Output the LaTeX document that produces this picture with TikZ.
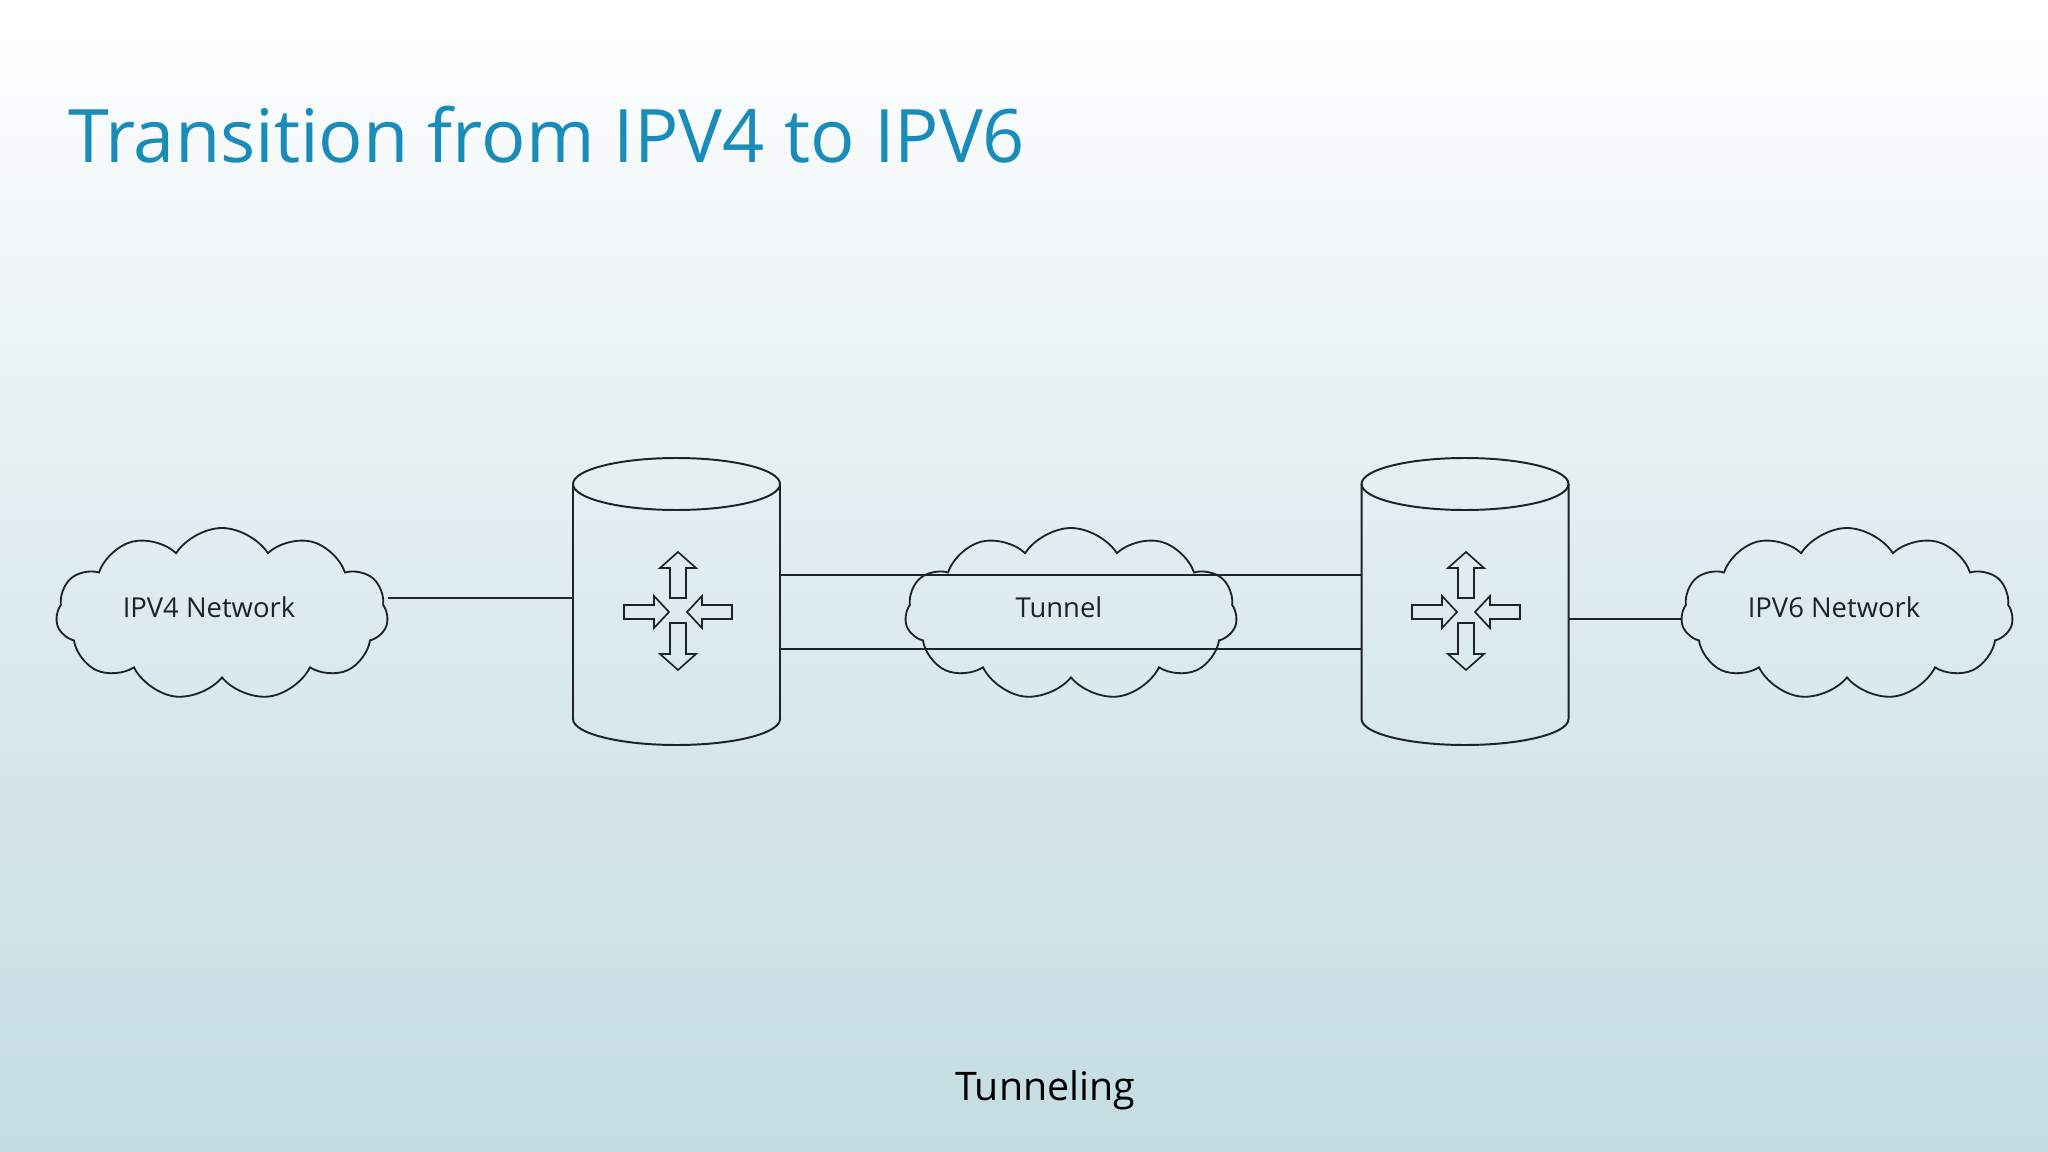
\documentclass[tikz,border=0pt]{standalone}
\usepackage{fontspec}
\setmainfont{Open Sans}
\usetikzlibrary{shapes.symbols}
\definecolor{ttl}{HTML}{1A8CBA}
\definecolor{bgb}{HTML}{C4DCE3}
\definecolor{ln}{HTML}{1E2328}
\tikzset{
 cl/.style={cloud, cloud puffs=11, cloud puff arc=115, aspect=1.9, draw=ln, line width=2.6pt, minimum width=16.6cm, minimum height=8.6cm, font=\fontsize{39}{44}\selectfont, text=ln},
 wire/.style={draw=ln, line width=2.8pt},
 arr/.style={draw=ln, line width=2.4pt, line join=miter},
 body/.style={minimum width=10.35cm, minimum height=13cm, inner sep=0pt}
}
\newcommand{\routericon}[1]{%
 \begin{scope}[shift={(#1)}]
  \draw[arr] (0,-60)--(18,-44)--(8,-44)--(8,-14)--(-8,-14)--(-8,-44)--(-18,-44)--cycle;
  \draw[arr] (0,58)--(18,42)--(8,42)--(8,11)--(-8,11)--(-8,42)--(-18,42)--cycle;
  \draw[arr] (-9,0)--(-24,-16)--(-24,-7)--(-54,-7)--(-54,7)--(-24,7)--(-24,16)--cycle;
  \draw[arr] (9,0)--(24,-16)--(24,-7)--(54,-7)--(54,7)--(24,7)--(24,16)--cycle;
 \end{scope}}
\newcommand{\routercyl}[1]{%
 \begin{scope}[shift={(#1,0)}]
  \draw[wire] (0,484) ellipse [x radius=103.5, y radius=26];
  \draw[wire] (-103.5,484) -- (-103.5,719) arc[start angle=180, end angle=0, x radius=103.5, y radius=26] -- (103.5,484);
 \end{scope}}
\begin{document}
\begin{tikzpicture}[x=0.05cm,y=-0.05cm]
\shade[top color=white, bottom color=bgb, middle color=bgb!55] (0,0) rectangle (2048,1152);
\useasboundingbox (0,0) rectangle (2048,1152);
\node[anchor=base west, inner sep=0pt, text=ttl, font=\fontsize{105}{112}\selectfont] (title) at (68,163) {Transition from IPV4 to IPV6};
\node[cl] (c1) at (222,614) {};
\node[text=ln, font=\fontsize{39}{44}\selectfont] (t1) at (209,607) {IPV4 Network};
\node[cl] (c2) at (1071,614) {};
\node[text=ln, font=\fontsize{39}{44}\selectfont] (t2) at (1059,607) {Tunnel};
\node[cl] (c3) at (1847,614) {};
\node[text=ln, font=\fontsize{39}{44}\selectfont] (t3) at (1834,607) {IPV6 Network};
\routercyl{676.5}
\routercyl{1465}
\node[body] (r1) at (676.5,610) {};
\node[body] (r2) at (1465,610) {};
\routericon{678,612}
\routericon{1466,612}
\draw[wire] (c1.east|-0,598) -- (r1.west|-0,598);
\draw[wire] (r1.east|-0,575) -- (r2.west|-0,575);
\draw[wire] (r1.east|-0,649) -- (r2.west|-0,649);
\draw[wire] (r2.east|-0,619) -- (c3.west|-0,619);
\node[text=black, font=\fontsize{56}{62}\selectfont] (cap) at (1045,1090) {Tunneling};
\end{tikzpicture}
\end{document}
